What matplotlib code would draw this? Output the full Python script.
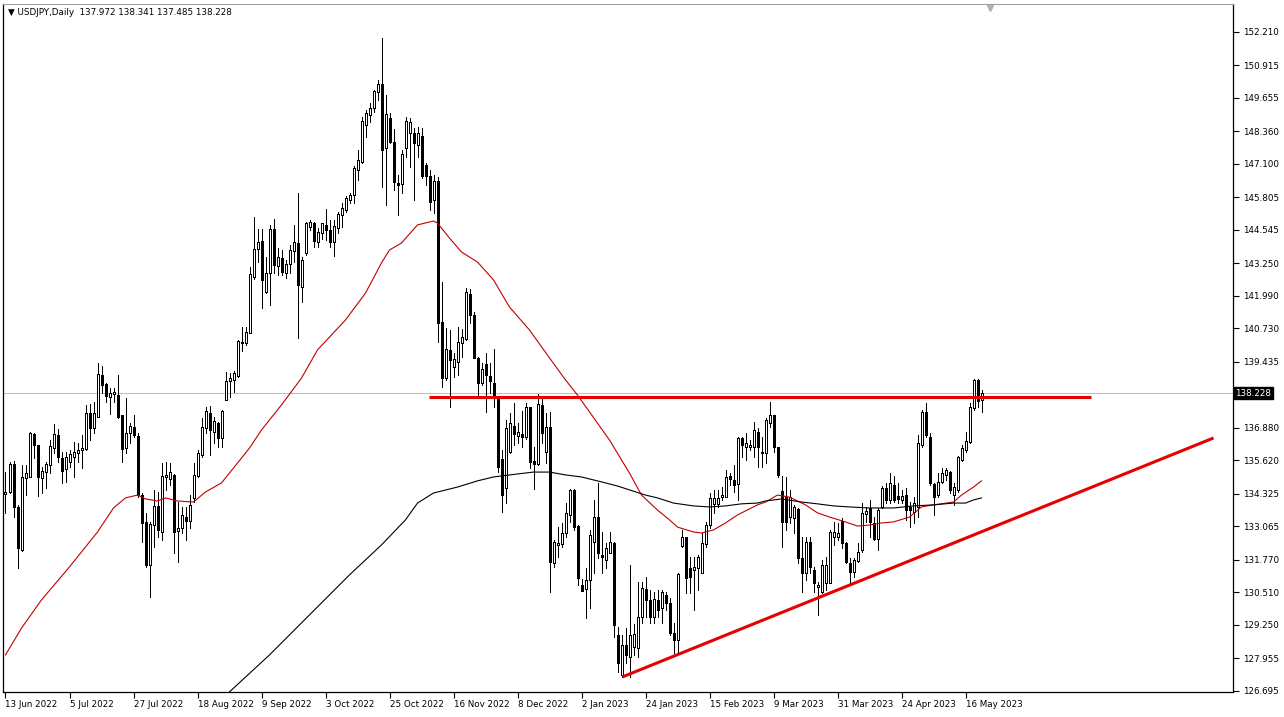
import matplotlib.pyplot as plt
import numpy as np

# daily USDJPY candles, 13 Jun 2022 .. May 2023
opens = [
    134.32, 134.41, 135.48, 133.83, 132.15, 134.93, 134.99, 136.63, 136.22, 134.93,
    135.19, 135.44, 136.09, 136.61, 135.73, 135.28, 135.57, 135.77, 135.92, 136.03,
    136.05, 137.47, 136.86, 137.31, 138.93, 138.58, 138.06, 138.18, 138.15, 137.38,
    136.09, 136.67, 136.90, 136.57, 134.28, 133.25, 131.57, 133.12, 133.86, 132.86,
    134.99, 134.89, 135.06, 132.90, 132.99, 133.42, 133.29, 134.18, 135.02, 135.83,
    136.86, 137.44, 136.73, 137.08, 136.48, 137.96, 138.71, 138.73, 138.89, 140.15,
    140.18, 140.57, 142.74, 143.79, 144.13, 142.15, 142.86, 144.57, 143.15, 143.45,
    142.89, 143.21, 143.73, 144.03, 142.32, 143.64, 144.65, 144.83, 144.07, 144.44,
    144.74, 144.54, 144.09, 144.61, 145.12, 145.32, 145.70, 145.90, 146.87, 147.19,
    148.61, 149.00, 149.25, 149.90, 150.20, 147.70, 148.87, 147.96, 146.35, 146.32,
    147.70, 148.29, 148.31, 147.83, 148.18, 147.06, 146.63, 145.70, 146.45, 140.99,
    138.80, 139.90, 139.25, 139.44, 140.18, 140.31, 142.05, 141.25, 139.60, 138.61,
    139.34, 138.89, 138.63, 138.09, 135.66, 134.54, 135.96, 136.95, 136.57, 136.64,
    136.51, 137.68, 135.61, 135.48, 137.77, 135.96, 136.90, 131.66, 132.35, 132.37,
    132.80, 133.51, 134.48, 133.08, 130.80, 130.63, 130.99, 132.48, 133.42, 131.96,
    131.77, 132.05, 132.44, 128.86, 127.31, 128.47, 128.02, 128.40, 128.35, 129.57,
    130.63, 130.22, 129.57, 130.22, 129.89, 130.41, 130.09, 128.93, 128.67, 132.31,
    132.67, 131.44, 131.38, 131.44, 131.28, 132.38, 133.12, 133.93, 133.93, 134.22,
    134.22, 135.02, 134.86, 134.71, 136.48, 136.15, 136.15, 136.15, 136.73, 135.90,
    135.92, 137.06, 137.38, 136.13, 134.45, 134.22, 133.42, 133.38, 133.73, 131.83,
    131.28, 132.48, 131.38, 130.71, 130.54, 130.86, 130.86, 132.67, 132.67, 133.29,
    132.41, 131.66, 131.31, 131.74, 132.15, 133.55, 133.77, 133.19, 132.58, 133.83,
    134.54, 134.09, 134.67, 134.24, 134.09, 134.28, 133.83, 133.64, 133.83, 136.22,
    137.51, 136.54, 134.71, 134.28, 134.80, 135.06, 135.19, 134.28, 134.47, 135.64,
    136.02, 136.35, 137.64, 138.74, 137.972,
]
highs = [
    135.19, 135.57, 135.61, 133.90, 135.44, 135.44, 136.73, 136.70, 136.22, 135.38,
    135.57, 136.41, 137.03, 136.83, 135.96, 135.96, 136.03, 136.35, 136.28, 136.61,
    137.77, 137.81, 137.90, 139.41, 139.28, 138.61, 138.41, 138.41, 138.93, 137.38,
    138.03, 137.06, 137.38, 136.67, 134.35, 133.57, 133.25, 134.47, 134.41, 135.51,
    135.57, 135.51, 135.10, 134.02, 133.83, 133.83, 134.28, 135.51, 136.02, 137.25,
    137.70, 137.73, 137.31, 137.12, 137.57, 139.06, 138.99, 139.10, 140.28, 140.80,
    140.80, 143.12, 145.06, 144.57, 144.57, 143.51, 144.74, 144.98, 143.83, 143.77,
    143.38, 143.96, 144.74, 145.96, 143.51, 144.87, 144.93, 144.87, 144.61, 144.83,
    145.34, 144.93, 144.93, 145.25, 145.58, 145.86, 145.96, 147.02, 147.64, 148.93,
    149.19, 149.45, 149.96, 150.35, 151.98, 149.77, 149.06, 148.44, 146.67, 147.64,
    148.90, 148.87, 148.48, 148.54, 148.48, 147.12, 146.87, 146.67, 146.61, 142.54,
    140.73, 140.67, 139.77, 140.80, 140.70, 142.28, 142.25, 141.38, 139.64, 139.38,
    139.77, 139.38, 139.92, 138.12, 136.02, 137.19, 137.44, 137.86, 137.06, 137.55,
    137.86, 137.70, 136.13, 138.19, 138.06, 137.44, 137.51, 132.54, 133.06, 133.19,
    133.96, 134.50, 134.50, 133.12, 131.02, 131.44, 132.93, 134.09, 134.76, 132.86,
    132.41, 132.86, 132.48, 129.19, 128.86, 129.12, 131.57, 129.30, 130.93, 130.93,
    131.12, 130.60, 130.54, 130.60, 130.60, 130.54, 130.28, 129.31, 131.25, 132.93,
    132.67, 131.90, 131.90, 131.96, 132.80, 133.25, 134.35, 134.48, 134.48, 134.60,
    135.25, 135.12, 135.44, 136.54, 136.54, 136.67, 136.41, 137.12, 136.86, 136.54,
    137.25, 137.90, 137.38, 136.15, 135.02, 134.99, 134.48, 133.89, 133.77, 132.67,
    132.67, 132.67, 131.51, 130.93, 131.77, 131.90, 132.93, 133.25, 133.19, 133.38,
    132.48, 131.83, 131.83, 132.41, 133.96, 133.80, 134.09, 133.44, 133.77, 134.64,
    134.73, 135.12, 135.02, 134.73, 134.48, 134.54, 134.02, 134.22, 136.60, 137.57,
    137.83, 136.67, 134.73, 135.12, 135.31, 135.31, 135.22, 134.73, 135.79, 136.22,
    136.73, 137.83, 138.76, 138.76, 138.341,
]
lows = [
    133.60, 134.35, 133.44, 131.47, 132.13, 134.28, 134.97, 135.70, 134.26, 134.35,
    134.54, 135.12, 135.90, 135.57, 134.73, 134.80, 135.38, 134.99, 135.57, 135.31,
    136.03, 136.41, 136.70, 137.29, 138.22, 137.90, 137.42, 137.90, 137.25, 135.57,
    135.90, 136.28, 136.54, 134.22, 132.47, 131.50, 130.34, 132.28, 132.67, 132.54,
    134.47, 134.67, 132.02, 131.70, 132.80, 132.54, 132.99, 134.02, 134.97, 135.77,
    136.67, 135.83, 136.28, 136.15, 136.15, 137.96, 138.09, 138.28, 138.86, 139.87,
    140.09, 140.54, 142.66, 143.32, 141.51, 142.09, 141.64, 142.86, 142.80, 142.80,
    142.67, 142.86, 143.32, 140.35, 141.77, 143.58, 144.54, 143.90, 143.90, 144.18,
    144.16, 143.90, 143.54, 144.41, 144.67, 145.25, 145.58, 145.58, 146.48, 147.15,
    148.13, 148.74, 149.12, 149.58, 146.22, 145.51, 147.90, 146.09, 145.12, 145.96,
    147.38, 146.99, 145.70, 147.38, 146.54, 146.28, 145.32, 145.19, 140.22, 138.48,
    138.73, 137.70, 138.86, 138.93, 139.64, 140.28, 140.93, 139.57, 138.11, 138.54,
    137.51, 138.22, 137.70, 135.19, 133.64, 133.96, 135.89, 136.22, 136.28, 136.15,
    136.44, 135.32, 134.50, 135.44, 136.31, 135.51, 130.54, 131.51, 131.90, 132.28,
    132.67, 133.25, 132.93, 130.80, 130.58, 129.51, 129.89, 131.28, 131.83, 131.25,
    131.44, 132.02, 128.80, 127.44, 127.23, 127.77, 127.25, 128.10, 128.02, 129.31,
    129.57, 129.31, 129.31, 129.57, 129.31, 129.83, 128.86, 128.15, 128.15, 132.28,
    130.48, 130.48, 129.83, 130.60, 131.25, 132.28, 132.99, 133.57, 133.83, 134.09,
    134.19, 134.67, 134.41, 134.09, 135.77, 135.64, 136.02, 135.77, 135.38, 135.38,
    135.51, 136.93, 135.96, 134.99, 132.28, 132.93, 133.19, 132.80, 131.64, 130.54,
    130.99, 131.25, 130.54, 129.64, 130.48, 130.60, 130.86, 132.35, 132.54, 132.22,
    131.64, 130.80, 131.12, 131.70, 132.09, 133.25, 132.67, 132.54, 132.15, 133.77,
    133.96, 133.96, 134.02, 133.96, 133.96, 133.31, 133.06, 133.19, 133.44, 136.15,
    136.54, 134.67, 133.51, 134.22, 134.73, 134.86, 134.35, 133.89, 134.41, 135.61,
    135.96, 136.28, 137.57, 137.70, 137.485,
]
closes = [
    134.41, 135.48, 133.83, 132.22, 134.99, 135.15, 136.70, 136.22, 134.99, 135.21,
    135.48, 136.18, 136.63, 135.77, 135.23, 135.74, 135.87, 135.96, 136.03, 136.09,
    137.44, 136.86, 137.44, 138.97, 138.54, 138.12, 138.24, 138.28, 137.31, 136.05,
    136.67, 136.95, 136.61, 134.28, 133.21, 131.57, 133.16, 133.86, 132.93, 135.02,
    135.06, 135.18, 132.86, 132.99, 133.51, 133.29, 133.89, 135.06, 135.90, 136.90,
    137.53, 136.80, 137.15, 136.48, 137.55, 138.71, 138.80, 138.99, 140.24, 140.19,
    140.59, 142.84, 143.79, 144.09, 142.61, 142.86, 144.57, 143.19, 143.51, 142.93,
    143.21, 143.77, 144.07, 142.41, 143.38, 144.80, 144.87, 144.13, 144.48, 144.80,
    144.54, 144.09, 144.70, 145.15, 145.38, 145.77, 145.90, 146.93, 147.25, 148.78,
    149.09, 149.25, 149.94, 150.20, 147.64, 149.03, 147.96, 146.41, 146.30, 147.49,
    148.76, 148.74, 147.92, 148.31, 146.63, 146.63, 145.64, 146.45, 140.93, 138.80,
    139.92, 139.51, 139.53, 140.22, 140.41, 142.15, 141.25, 139.60, 138.63, 139.15,
    138.93, 138.71, 138.09, 135.35, 134.28, 136.86, 137.06, 136.64, 136.73, 136.54,
    137.68, 135.57, 135.48, 137.81, 136.67, 136.90, 131.70, 132.48, 132.41, 132.80,
    133.60, 134.48, 133.06, 131.06, 130.58, 130.99, 132.73, 133.44, 132.02, 131.87,
    132.22, 132.48, 129.25, 127.79, 128.47, 128.09, 128.86, 128.90, 129.57, 130.67,
    130.22, 129.57, 130.24, 129.83, 130.54, 130.09, 128.93, 128.67, 131.22, 132.67,
    131.06, 131.12, 131.51, 131.90, 132.41, 133.12, 134.15, 134.15, 134.15, 134.28,
    134.99, 134.89, 134.67, 136.48, 136.22, 136.28, 136.22, 136.80, 136.13, 135.96,
    137.19, 137.38, 136.13, 135.06, 133.25, 133.25, 134.19, 133.80, 131.83, 131.28,
    132.48, 131.51, 130.86, 130.80, 131.57, 131.57, 132.86, 132.86, 132.80, 132.41,
    131.70, 131.31, 131.77, 132.09, 133.60, 133.68, 133.25, 132.57, 133.70, 134.54,
    134.09, 134.73, 134.09, 134.11, 134.24, 133.70, 133.70, 133.96, 136.28, 137.51,
    136.60, 134.73, 134.22, 134.80, 135.12, 135.25, 134.47, 134.58, 135.77, 136.09,
    136.39, 137.68, 138.74, 137.93, 138.228,
]

# moving averages as drawn on the chart (bar index, price)
red_ma_bar = [0, 4, 9, 16, 23, 27, 30, 33, 35, 38, 40, 43, 47, 50, 54, 58, 61, 64, 69, 74,
              78, 85, 90, 94, 96, 99, 103, 107, 108, 111, 114, 118, 122, 126, 131, 136, 140,
              143, 146, 151, 156, 159, 163, 166, 168, 172, 174, 177, 180, 183, 188, 190, 193,
              196, 200, 203, 206, 210, 213, 216, 219, 222, 226, 229, 232, 237, 239, 242, 244]
red_ma = [128.09, 129.13, 130.22, 131.50, 132.85, 133.78, 134.17, 134.28, 134.13, 134.05,
          134.17, 134.05, 134.01, 134.40, 134.75, 135.52, 136.10, 136.80, 137.77, 138.81,
          139.90, 141.06, 142.10, 143.27, 143.77, 144.04, 144.74, 144.89, 144.81, 144.23,
          143.69, 143.30, 142.61, 141.56, 140.67, 139.59, 138.74, 138.15, 137.50, 136.41,
          135.13, 134.28, 133.70, 133.32, 133.04, 132.85, 132.81, 132.93, 133.20, 133.51,
          133.90, 134.01, 134.28, 134.20, 133.90, 133.59, 133.43, 133.24, 133.08, 133.12,
          133.20, 133.24, 133.43, 133.82, 133.90, 134.01, 134.28, 134.59, 134.83]
black_ma_bar = [53, 56, 66, 76, 86, 94, 100, 103, 107, 113, 118, 122, 126, 132, 136, 140, 144,
                149, 153, 156, 160, 163, 167, 172, 176, 180, 184, 188, 190, 194, 199, 203, 207,
                211, 216, 222, 227, 232, 237, 240, 242, 244]
black_ma = [126.27, 126.66, 128.09, 129.64, 131.19, 132.35, 133.32, 133.97, 134.36, 134.59,
            134.83, 134.98, 135.06, 135.17, 135.17, 135.06, 134.98, 134.79, 134.63, 134.48,
            134.28, 134.17, 133.97, 133.86, 133.82, 133.86, 133.94, 133.97, 134.05, 134.13,
            134.01, 133.94, 133.86, 133.82, 133.78, 133.78, 133.86, 133.90, 133.97, 133.97,
            134.09, 134.17]

# drawn objects: resistance and rising trendline
resist_bar = [105.75, 271.25]
resist_price = [138.08, 138.08]
trend_bar = [154.25, 302.0]
trend_price = [127.24, 136.49]

price_ticks = [152.210, 150.915, 149.655, 148.360, 147.100, 145.805, 144.545, 143.250,
               141.990, 140.730, 139.435, 136.880, 135.620, 134.325, 133.065, 131.770,
               130.510, 129.250, 127.955, 126.695]
date_labels = ['13 Jun 2022', '5 Jul 2022', '27 Jul 2022', '18 Aug 2022', '9 Sep 2022',
               '3 Oct 2022', '25 Oct 2022', '16 Nov 2022', '8 Dec 2022', '2 Jan 2023',
               '24 Jan 2023', '15 Feb 2023', '9 Mar 2023', '31 Mar 2023', '24 Apr 2023',
               '16 May 2023']

o = np.array(opens)
h = np.array(highs)
l = np.array(lows)
c = np.array(closes)
x = np.arange(len(c))
bull = c >= o

fig = plt.figure(figsize=(12.84, 7.17), dpi=100)
ax = fig.add_axes([3 / 1284, 25 / 717, 1230 / 1284, 688 / 717])

# current price line
ax.axhline(c[-1], color='#c0c0c0', lw=0.75, zorder=1)

# candles: 1px wick, 3px body (white bull / black bear)
ax.vlines(x, l, h, color='black', lw=0.72, zorder=2, antialiased=False)
ax.bar(x, np.abs(c - o), bottom=np.minimum(o, c), width=0.5,
       color=np.where(bull, 'white', 'black'), edgecolor='black', linewidth=0.72,
       zorder=3, antialiased=False)

# moving averages
ax.plot(red_ma_bar, red_ma, color='#c00000', lw=0.8, zorder=4)
ax.plot(black_ma_bar, black_ma, color='black', lw=0.8, zorder=4)

# drawings
ax.plot(resist_bar, resist_price, color='#e60000', lw=2.2, zorder=5, solid_capstyle='butt')
ax.plot(trend_bar, trend_price, color='#e60000', lw=2.2, zorder=5, solid_capstyle='butt')

# 4 px per bar, bar centres on pixel centres
ax.set_xlim(-0.625, 306.875)
ax.set_ylim(126.655, 153.293)

# axes styling, MT4 look
ax.yaxis.tick_right()
ax.set_yticks(price_ticks)
ax.set_yticklabels([f"{v:.3f}" for v in price_ticks])
ax.set_xticks(np.arange(len(date_labels)) * 16)
ax.set_xticklabels(date_labels, ha='left')
ax.tick_params(axis='y', direction='out', length=4, width=0.8, labelsize=6.3, pad=3)
ax.tick_params(axis='x', direction='out', length=4, width=0.8, labelsize=6.3, pad=2)
for side in ['left', 'bottom', 'right']:
    ax.spines[side].set_linewidth(0.9)
ax.spines['top'].set_color('#a0a0a0')

ax.text(1.002, c[-1], f"{c[-1]:.3f}", transform=ax.get_yaxis_transform(),
        ha='left', va='center', color='white', fontsize=6.3,
        bbox=dict(boxstyle='square,pad=0.2', fc='black', ec='black'))

ax.text(0.004, 0.988,
        f"\u25bc USDJPY,Daily  {o[-1]:.3f} {h[-1]:.3f} {l[-1]:.3f} {c[-1]:.3f}",
        transform=ax.transAxes, fontsize=6.3, ha='left', va='center')

# chart shift marker
ax.plot([len(c) + 1], [0.994], marker='v', color='#b0b0b0', markersize=5,
        transform=ax.get_xaxis_transform(), clip_on=False)

fig.savefig('out.png', dpi=100)
